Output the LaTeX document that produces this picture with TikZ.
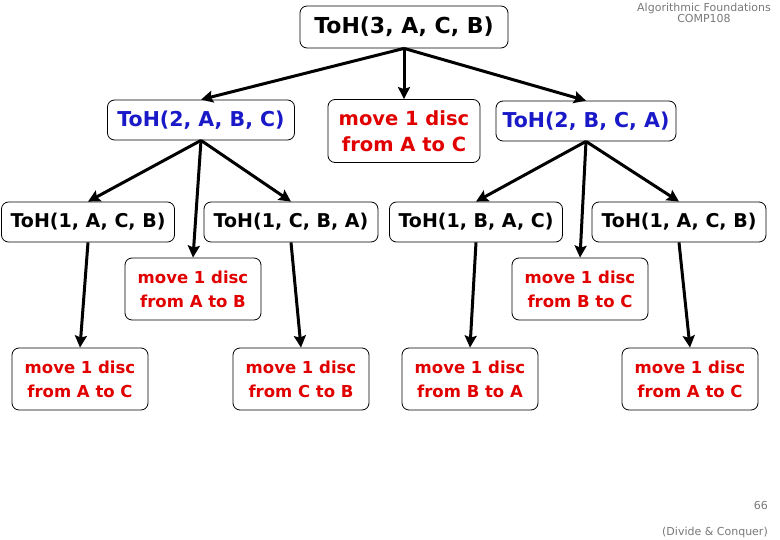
\documentclass[tikz,border=0pt]{standalone}
\usepackage{fontspec}
\setmainfont{DejaVu Sans}
\usetikzlibrary{arrows.meta}
\definecolor{callblue}{RGB}{25,25,200}
\definecolor{movered}{RGB}{225,0,0}
\definecolor{headgray}{RGB}{120,120,120}

\begin{document}
\begin{tikzpicture}[x=1pt,y=-1pt,
	box/.style={draw,rounded corners=7pt,line width=0.8pt,inner sep=0pt,font=\bfseries},
	call/.style={box,minimum height=40pt},
	move/.style={box,text=movered,align=center,minimum width=136pt,minimum height=62pt,
		font=\bfseries\fontsize{16.5}{24}\selectfont},
	link/.style={line width=3pt,-{Stealth[length=12pt,width=12pt,inset=2pt]}},
	note/.style={text=headgray,font=\fontsize{11}{11.5}\selectfont,inner sep=0pt}]
	\useasboundingbox (0,0) rectangle (780,540);
%	\draw[lightgray] (0,0) grid[step=20] (780,540);
	% level 0 and 1
	\node[call,minimum width=208pt,minimum height=42pt,font=\bfseries\fontsize{22}{26}\selectfont] (toh3) at (404,27) {ToH(3, A, C, B)};
	\node[call,text=callblue,minimum width=187pt,font=\bfseries\fontsize{20.5}{24}\selectfont] (tohL) at (201,120) {ToH(2, A, B, C)};
	\node[move,minimum width=152pt,minimum height=63pt,font=\bfseries\fontsize{19.5}{26}\selectfont] (mvAC) at (404,131) {move 1 disc\\from A to C};
	\node[call,text=callblue,minimum width=180pt,font=\bfseries\fontsize{20.5}{24}\selectfont] (tohR) at (586,121) {ToH(2, B, C, A)};
	% level 2
	\node[call,minimum width=173pt,font=\bfseries\fontsize{19}{22}\selectfont] (tohLL) at (88,222) {ToH(1, A, C, B)};
	\node[call,minimum width=174pt,font=\bfseries\fontsize{19}{22}\selectfont] (tohLR) at (291,222) {ToH(1, C, B, A)};
	\node[call,minimum width=173pt,font=\bfseries\fontsize{19}{22}\selectfont] (tohRL) at (476,222) {ToH(1, B, A, C)};
	\node[call,minimum width=174pt,font=\bfseries\fontsize{19}{22}\selectfont] (tohRR) at (679,222) {ToH(1, A, C, B)};
	\node[move] (mvAB) at (193,289) {move 1 disc\\from A to B};
	\node[move] (mvBC) at (580,289) {move 1 disc\\from B to C};
	% level 3
	\node[move] (mvLL) at (80,379) {move 1 disc\\from A to C};
	\node[move] (mvLR) at (301,379) {move 1 disc\\from C to B};
	\node[move] (mvRL) at (470,379) {move 1 disc\\from B to A};
	\node[move] (mvRR) at (690,379) {move 1 disc\\from A to C};
	% connectors
	\foreach \from/\to in {toh3/tohL,toh3/mvAC,toh3/tohR,
		tohL/tohLL,tohL/mvAB,tohL/tohLR,tohR/tohRL,tohR/mvBC,tohR/tohRR,
		tohLL/mvLL,tohLR/mvLR,tohRL/mvRL,tohRR/mvRR}
		\draw[link] (\from.south) -- (\to.north);
	% slide texts
	\node[note,align=center] (course) at (704,13) {Algorithmic Foundations\\COMP108};
	\node[note,anchor=east] (page) at (768,505) {66};
	\node[note,anchor=east] (topic) at (768,532) {(Divide \& Conquer)};
\end{tikzpicture}
\end{document}
